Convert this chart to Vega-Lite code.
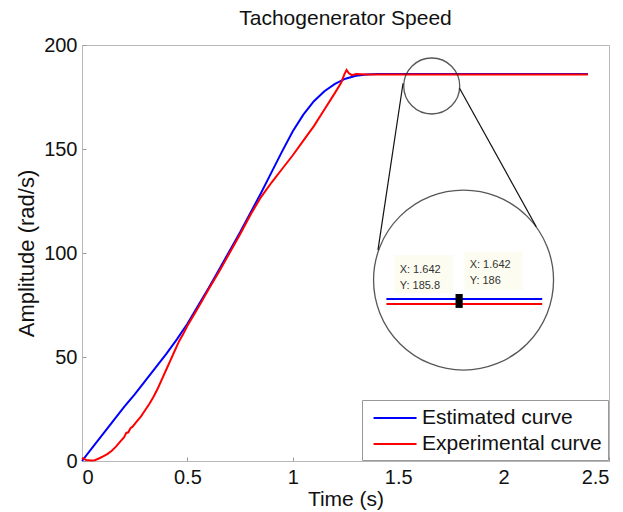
{
  "$schema": "https://vega.github.io/schema/vega-lite/v6.json",
  "width": 527,
  "height": 416,
  "autosize": {"type": "none"},
  "padding": {"left": 82, "top": 45, "right": 14, "bottom": 51},
  "background": "white",
  "title": {"text": "Tachogenerator Speed", "fontSize": 21, "fontWeight": "normal", "font": "Liberation Sans", "color": "#111", "offset": 6, "anchor": "middle"},
  "config": {
    "font": "Liberation Sans",
    "view": {"stroke": "#b8b8b8", "strokeWidth": 1},
    "axis": {
      "grid": false,
      "domainColor": "#b8b8b8",
      "tickColor": "#999",
      "tickSize": -4,
      "labelFontSize": 20,
      "labelColor": "#111",
      "titleFontSize": 21,
      "titleFontWeight": "normal",
      "titleColor": "#111",
      "labelFont": "Liberation Sans",
      "titleFont": "Liberation Sans"
    },
    "legend": {
      "orient": "bottom-right",
      "offset": 1,
      "strokeColor": "#999",
      "fillColor": "white",
      "padding": 6,
      "labelFontSize": 21,
      "labelFont": "Liberation Sans",
      "labelColor": "#111",
      "labelLimit": 0,
      "symbolType": "M-0.6,0H3.4",
      "symbolSize": 462,
      "symbolStrokeWidth": 2,
      "rowPadding": 4,
      "labelOffset": 30,
      "cornerRadius": 0
    }
  },
  "layer": [
    {
      "data": {"values": [
        {"t": 0, "v": 0, "series": "Estimated curve"},
        {"t": 0.05, "v": 6.5, "series": "Estimated curve"},
        {"t": 0.1, "v": 13, "series": "Estimated curve"},
        {"t": 0.15, "v": 19.5, "series": "Estimated curve"},
        {"t": 0.2, "v": 26, "series": "Estimated curve"},
        {"t": 0.25, "v": 32, "series": "Estimated curve"},
        {"t": 0.3, "v": 38.5, "series": "Estimated curve"},
        {"t": 0.35, "v": 45, "series": "Estimated curve"},
        {"t": 0.4, "v": 51.5, "series": "Estimated curve"},
        {"t": 0.45, "v": 58.5, "series": "Estimated curve"},
        {"t": 0.5, "v": 66, "series": "Estimated curve"},
        {"t": 0.55, "v": 74.5, "series": "Estimated curve"},
        {"t": 0.6, "v": 83, "series": "Estimated curve"},
        {"t": 0.65, "v": 92, "series": "Estimated curve"},
        {"t": 0.7, "v": 101, "series": "Estimated curve"},
        {"t": 0.75, "v": 110, "series": "Estimated curve"},
        {"t": 0.8, "v": 119.5, "series": "Estimated curve"},
        {"t": 0.85, "v": 129, "series": "Estimated curve"},
        {"t": 0.9, "v": 139, "series": "Estimated curve"},
        {"t": 0.95, "v": 149, "series": "Estimated curve"},
        {"t": 1.0, "v": 158.5, "series": "Estimated curve"},
        {"t": 1.05, "v": 166.5, "series": "Estimated curve"},
        {"t": 1.1, "v": 173, "series": "Estimated curve"},
        {"t": 1.15, "v": 177.8, "series": "Estimated curve"},
        {"t": 1.2, "v": 181.3, "series": "Estimated curve"},
        {"t": 1.25, "v": 183.8, "series": "Estimated curve"},
        {"t": 1.3, "v": 185.2, "series": "Estimated curve"},
        {"t": 1.35, "v": 185.8, "series": "Estimated curve"},
        {"t": 1.4, "v": 186, "series": "Estimated curve"},
        {"t": 1.6, "v": 186, "series": "Estimated curve"},
        {"t": 2.0, "v": 186, "series": "Estimated curve"},
        {"t": 2.4, "v": 186, "series": "Estimated curve"},
        {"t": 0, "v": 1.5, "series": "Experimental curve"},
        {"t": 0.02, "v": 0.5, "series": "Experimental curve"},
        {"t": 0.04, "v": 0.2, "series": "Experimental curve"},
        {"t": 0.06, "v": 0.4, "series": "Experimental curve"},
        {"t": 0.08, "v": 1.2, "series": "Experimental curve"},
        {"t": 0.1, "v": 2.2, "series": "Experimental curve"},
        {"t": 0.12, "v": 3.3, "series": "Experimental curve"},
        {"t": 0.14, "v": 4.8, "series": "Experimental curve"},
        {"t": 0.16, "v": 6.8, "series": "Experimental curve"},
        {"t": 0.18, "v": 9.2, "series": "Experimental curve"},
        {"t": 0.2, "v": 11.5, "series": "Experimental curve"},
        {"t": 0.21, "v": 13.5, "series": "Experimental curve"},
        {"t": 0.22, "v": 13.8, "series": "Experimental curve"},
        {"t": 0.23, "v": 15.8, "series": "Experimental curve"},
        {"t": 0.24, "v": 16.5, "series": "Experimental curve"},
        {"t": 0.26, "v": 19, "series": "Experimental curve"},
        {"t": 0.28, "v": 21.5, "series": "Experimental curve"},
        {"t": 0.3, "v": 24.5, "series": "Experimental curve"},
        {"t": 0.32, "v": 27.5, "series": "Experimental curve"},
        {"t": 0.34, "v": 31, "series": "Experimental curve"},
        {"t": 0.36, "v": 35, "series": "Experimental curve"},
        {"t": 0.38, "v": 39.5, "series": "Experimental curve"},
        {"t": 0.4, "v": 44, "series": "Experimental curve"},
        {"t": 0.42, "v": 48.5, "series": "Experimental curve"},
        {"t": 0.44, "v": 53, "series": "Experimental curve"},
        {"t": 0.46, "v": 57.5, "series": "Experimental curve"},
        {"t": 0.48, "v": 61, "series": "Experimental curve"},
        {"t": 0.5, "v": 65, "series": "Experimental curve"},
        {"t": 0.55, "v": 73.5, "series": "Experimental curve"},
        {"t": 0.6, "v": 82.5, "series": "Experimental curve"},
        {"t": 0.65, "v": 91, "series": "Experimental curve"},
        {"t": 0.7, "v": 100, "series": "Experimental curve"},
        {"t": 0.75, "v": 109, "series": "Experimental curve"},
        {"t": 0.8, "v": 118.5, "series": "Experimental curve"},
        {"t": 0.85, "v": 127, "series": "Experimental curve"},
        {"t": 0.9, "v": 134, "series": "Experimental curve"},
        {"t": 0.95, "v": 140.5, "series": "Experimental curve"},
        {"t": 1.0, "v": 147, "series": "Experimental curve"},
        {"t": 1.05, "v": 154, "series": "Experimental curve"},
        {"t": 1.1, "v": 161, "series": "Experimental curve"},
        {"t": 1.15, "v": 169, "series": "Experimental curve"},
        {"t": 1.2, "v": 177, "series": "Experimental curve"},
        {"t": 1.23, "v": 182, "series": "Experimental curve"},
        {"t": 1.245, "v": 186, "series": "Experimental curve"},
        {"t": 1.255, "v": 188, "series": "Experimental curve"},
        {"t": 1.265, "v": 186.5, "series": "Experimental curve"},
        {"t": 1.28, "v": 185.5, "series": "Experimental curve"},
        {"t": 1.3, "v": 186, "series": "Experimental curve"},
        {"t": 1.35, "v": 185.8, "series": "Experimental curve"},
        {"t": 1.6, "v": 185.8, "series": "Experimental curve"},
        {"t": 2.0, "v": 185.8, "series": "Experimental curve"},
        {"t": 2.4, "v": 185.8, "series": "Experimental curve"}
      ]},
      "mark": {"type": "line", "strokeWidth": 2},
      "encoding": {
        "x": {"field": "t", "type": "quantitative", "scale": {"domain": [0, 2.5], "nice": false},
              "axis": {"title": "Time (s)", "values": [0, 0.5, 1, 1.5, 2, 2.5], "format": "~g", "labelPadding": 10, "titlePadding": 1}},
        "y": {"field": "v", "type": "quantitative", "scale": {"domain": [0, 200], "nice": false},
              "axis": {"title": "Amplitude (rad/s)", "values": [0, 50, 100, 150, 200], "labelPadding": 9, "titlePadding": 5, "titleFontSize": 22}},
        "color": {"field": "series", "type": "nominal",
                  "scale": {"domain": ["Estimated curve", "Experimental curve"], "range": ["#0000ff", "#ff0000"]},
                  "legend": {"title": null}},
        "order": {"field": "t", "type": "quantitative"}
      }
    },
    {
      "data": {"values": [
        {"x": 1.659, "y": 180.3, "kind": "small"},
        {"x": 1.81, "y": 87.0, "kind": "big"}
      ]},
      "mark": {"type": "point", "shape": "circle", "filled": false, "stroke": "#111", "strokeWidth": 1.3},
      "encoding": {
        "x": {"field": "x", "type": "quantitative"},
        "y": {"field": "y", "type": "quantitative"},
        "size": {"field": "kind", "type": "nominal", "scale": {"domain": ["small", "big"], "range": [3136, 32400]}, "legend": null}
      }
    },
    {
      "data": {"values": [
        {"x": 1.523, "y": 181.6, "x2": 1.404, "y2": 101.4, "c": "k"},
        {"x": 1.791, "y": 179.2, "x2": 2.155, "y2": 112.6, "c": "k"}
      ]},
      "mark": {"type": "rule", "stroke": "#111", "strokeWidth": 1.2},
      "encoding": {
        "x": {"field": "x", "type": "quantitative"},
        "y": {"field": "y", "type": "quantitative"},
        "x2": {"field": "x2"},
        "y2": {"field": "y2"}
      }
    },
    {
      "data": {"values": [
        {"x": 1.483, "x2": 1.758, "y": 99.0, "y2": 80.8},
        {"x": 1.815, "x2": 2.09, "y": 100.5, "y2": 82.2}
      ]},
      "mark": {"type": "rect", "fill": "#fcfcf0"},
      "encoding": {
        "x": {"field": "x", "type": "quantitative"},
        "x2": {"field": "x2"},
        "y": {"field": "y", "type": "quantitative"},
        "y2": {"field": "y2"}
      }
    },
    {
      "data": {"values": [
        {"x": 1.444, "x2": 2.183, "y": 77.9, "s": "Estimated curve"},
        {"x": 1.444, "x2": 2.183, "y": 75.5, "s": "Experimental curve"}
      ]},
      "mark": {"type": "rule", "strokeWidth": 2},
      "encoding": {
        "x": {"field": "x", "type": "quantitative"},
        "x2": {"field": "x2"},
        "y": {"field": "y", "type": "quantitative"},
        "stroke": {"field": "s", "type": "nominal", "scale": {"domain": ["Estimated curve", "Experimental curve"], "range": ["#0000ff", "#ff0000"]}, "legend": null}
      }
    },
    {
      "data": {"values": [{"x": 1.772, "x2": 1.806, "y": 80.3, "y2": 73.6}]},
      "mark": {"type": "rect", "fill": "#000"},
      "encoding": {
        "x": {"field": "x", "type": "quantitative"},
        "x2": {"field": "x2"},
        "y": {"field": "y", "type": "quantitative"},
        "y2": {"field": "y2"}
      }
    },
    {
      "data": {"values": [
        {"x": 1.507, "y": 91.8, "label": "X: 1.642"},
        {"x": 1.507, "y": 84.1, "label": "Y: 185.8"},
        {"x": 1.839, "y": 94.2, "label": "X: 1.642"},
        {"x": 1.839, "y": 86.5, "label": "Y: 186"}
      ]},
      "mark": {"type": "text", "align": "left", "baseline": "middle", "fontSize": 11, "font": "Liberation Sans", "color": "#333"},
      "encoding": {
        "x": {"field": "x", "type": "quantitative"},
        "y": {"field": "y", "type": "quantitative"},
        "text": {"field": "label"}
      }
    }
  ]
}
